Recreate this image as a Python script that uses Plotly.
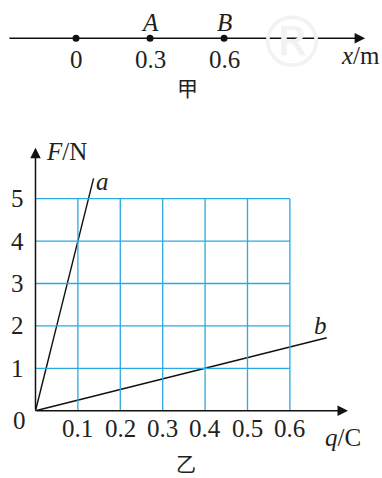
import plotly.graph_objects as go

# ---- 甲: number line ----
pos_values = [0, 0.3, 0.6]
pos_labels = ["0", "0.3", "0.6"]
point_names = ["", "<i>A</i>", "<i>B</i>"]

# ---- 乙: F-q graph ----
q_ticks = [0.1, 0.2, 0.3, 0.4, 0.5, 0.6]
q_labels = ["0.1", "0.2", "0.3", "0.4", "0.5", "0.6"]
F_ticks = [1, 2, 3, 4, 5]
F_labels = ["1", "2", "3", "4", "5"]
line_a_q = [0, 0.137]
line_a_F = [0, 5.48]
line_b_q = [0, 0.687]
line_b_F = [0, 1.72]

SERIF = "Liberation Serif, Times New Roman, serif"
GRID = "#2aaae2"
FS = 25

fig = go.Figure()

# grid (bounded to q<=0.6, F<=5)
qmax = q_ticks[-1]
Fmax = F_ticks[-1]
shapes = []
for q in q_ticks:
    shapes.append(dict(type="line", xref="x", yref="y", x0=q, x1=q, y0=0, y1=Fmax,
                       line=dict(color=GRID, width=1.3)))
for F in F_ticks:
    shapes.append(dict(type="line", xref="x", yref="y", x0=0, x1=qmax, y0=F, y1=F,
                       line=dict(color=GRID, width=1.3)))

# lines a and b
fig.add_trace(go.Scatter(x=line_a_q, y=line_a_F, mode="lines",
                         line=dict(color="#111", width=1.4), xaxis="x", yaxis="y",
                         showlegend=False, hoverinfo="skip"))
fig.add_trace(go.Scatter(x=line_b_q, y=line_b_F, mode="lines",
                         line=dict(color="#111", width=1.4), xaxis="x", yaxis="y",
                         showlegend=False, hoverinfo="skip"))

# number line points
LINE_Y = 38.3
fig.add_trace(go.Scatter(x=pos_values, y=[LINE_Y] * len(pos_values), mode="markers",
                         marker=dict(color="#111", size=7), xaxis="x2", yaxis="y2",
                         showlegend=False, hoverinfo="skip"))

ann = []
arrow_common = dict(showarrow=True, arrowhead=2, arrowsize=1.4, arrowwidth=1.5,
                    arrowcolor="#111", text="", standoff=0, startstandoff=0)
# axes arrows (bottom)
ann.append(dict(xref="x", yref="y", axref="x", ayref="y", x=0.737, y=0, ax=0, ay=0, **arrow_common))
ann.append(dict(xref="x", yref="y", axref="x", ayref="y", x=0, y=6.2, ax=0, ay=0, **arrow_common))
# number line arrow (top)
ann.append(dict(xref="x2", yref="y2", axref="x2", ayref="y2", x=1.1715, y=LINE_Y,
                ax=-0.276, ay=LINE_Y, **arrow_common))

def txt(x, y, s, xref="x", yref="y", size=FS, family=SERIF, color="#231f20", xanchor="center"):
    ann.append(dict(xref=xref, yref=yref, x=x, y=y, text=s, showarrow=False,
                    font=dict(family=family, size=size, color=color),
                    xanchor=xanchor, yanchor="middle"))

for q, lab in zip(q_ticks, q_labels):
    txt(q, -0.41, lab)
for F, lab in zip(F_ticks, F_labels):
    txt(-0.0413, F, lab)
txt(-0.0366, -0.22, "0")
txt(0.072, 6.12, "<i>F</i>/N")
txt(0.725, -0.62, "<i>q</i>/C")
txt(0.159, 5.40, "<i>a</i>")
txt(0.673, 2.0, "<i>b</i>")
txt(0.355, -1.25, "乙", family="Noto Sans CJK SC", size=20)

for v, lab, nm in zip(pos_values, pos_labels, point_names):
    txt(v, 60, lab, xref="x2", yref="y2")
    if nm:
        txt(v, 22, nm, xref="x2", yref="y2")
txt(1.238, 56, "<i>x</i>/m", xref="x2", yref="y2", xanchor="right")
txt(0.45, 87, "甲", xref="x2", yref="y2", family="Noto Sans CJK SC", size=21)

# faint watermark
ann.append(dict(xref="paper", yref="paper", x=292 / 382, y=1 - 42 / 478, text="®",
                showarrow=False, font=dict(family="DejaVu Sans", size=72, color="#f2f2f2"),
                xanchor="center", yanchor="middle"))

fig.update_layout(
    width=382, height=478,
    margin=dict(l=0, r=0, t=0, b=0),
    paper_bgcolor="white", plot_bgcolor="rgba(0,0,0,0)",
    shapes=shapes, annotations=ann,
    xaxis=dict(domain=[0, 1], range=[-0.0837, 0.8172], visible=False, fixedrange=True),
    yaxis=dict(domain=[0, 1], range=[-1.587, 9.686], visible=False, fixedrange=True),
    xaxis2=dict(domain=[0, 1], range=[-0.308, 1.240], visible=False, anchor="y2",
                overlaying="x", fixedrange=True),
    yaxis2=dict(domain=[0.7699, 1], range=[110, 0], visible=False, anchor="x2",
                fixedrange=True),
    showlegend=False,
)

fig.write_html("out.html", config={"displayModeBar": False},
               post_script="document.body.style.margin='0';document.body.style.overflow='hidden';")
